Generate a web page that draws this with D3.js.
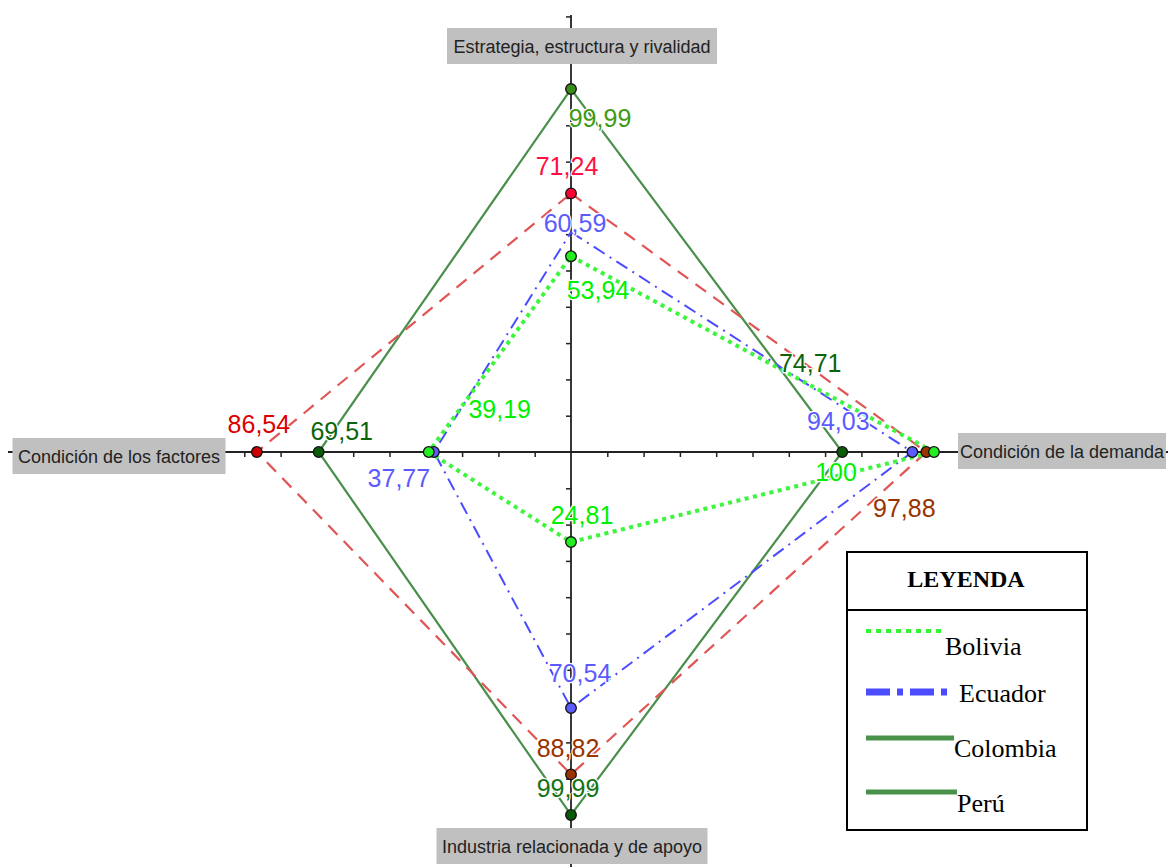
<!DOCTYPE html>
<html>
<head>
<meta charset="utf-8">
<script src="https://cdn.jsdelivr.net/npm/d3@7"></script>
<style>
  body { margin: 0; background: #fff; }
  svg { display: block; }
</style>
</head>
<body>
<svg width="1168" height="867"></svg>
<script>
// axis names, clockwise from the top
const axisNames = [
  'Estrategia, estructura y rivalidad',
  'Condición de la demanda',
  'Industria relacionada y de apoyo',
  'Condición de los factores'
]
const countries = ['Bolivia', 'Ecuador', 'Colombia', 'Perú']

// values per axis (top, right, bottom, left)
const bolivia = [53.94, 100, 24.81, 39.19]
const ecuador = [60.59, 94.03, 70.54, 37.77]
const colombia = [99.99, 74.71, 99.99, 69.51]
const peru = [71.24, 97.88, 88.82, 86.54]

const values = [bolivia, ecuador, colombia, peru]

// where each value label sits relative to its point (dx, baseline dy)
const labelOffsets = [
  [[27, 43], [-98, 29], [11, -18], [71, -34]],
  [[4, 0], [-74, -22], [9, -26], [-35, 35]],
  [[29, 38], [-32, -80], [-3, -18], [23, -12]],
  [[-4, -18], [-22, 65], [-3, -17], [2, -19]]
]

// line styles per country
const styles = [
  {stroke: '#3cf53c', width: 4, dash: '4,4.5', dot: ['#22ee22', '#22ee22', '#22ee22', '#22ee22'],
   text: ['#00f000', '#00f000', '#00f000', '#00f000']},
  {stroke: '#4b4bff', width: 2, dash: '13,6,2,6', dot: [null, '#5b5bff', '#5b5bff', '#5b5bff'],
   text: ['#5b5bff', '#5b5bff', '#5b5bff', '#5b5bff']},
  {stroke: '#4a8f4a', width: 2.2, dash: null, dot: ['#3a8c1a', '#0a5a0a', '#0a5a0a', '#0a5a0a'],
   text: ['#3e9a12', '#0b640b', '#137313', '#0b640b']},
  {stroke: '#e05555', width: 2.2, dash: '13,9', dot: ['#ff0033', '#993300', '#993300', '#cc0000'],
   text: ['#ff1040', '#993300', '#993300', '#dd0000']}
]

const svg = d3.select('svg')
const width = +svg.attr('width')
const height = +svg.attr('height')

const cx = 571, cy = 452
const R = 363

const x = d3.scaleLinear().domain([-100, 100]).range([cx - R, cx + R])
const y = d3.scaleLinear().domain([-100, 100]).range([cy + R, cy - R])

// point of value v on axis i
const pos = (i, v) => {
  if (i === 0) return [x(0), y(v)]
  if (i === 1) return [x(v), y(0)]
  if (i === 2) return [x(0), y(-v)]
  return [x(-v), y(0)]
}

svg.append('rect').attr('width', width).attr('height', height).attr('fill', '#fff')

// axes with ticks
const tickVals = d3.range(-150, 130, 10).filter(d => d !== 0)
svg.append('g').attr('transform', `translate(0,${cy})`)
  .call(d3.axisBottom(x).tickValues(tickVals).tickSize(5).tickFormat(''))
svg.append('g').attr('transform', `translate(${cx},0)`)
  .call(d3.axisLeft(y).tickValues(tickVals).tickSize(5).tickFormat(''))
svg.selectAll('.domain').remove()
svg.selectAll('.tick line').attr('stroke', '#222').attr('stroke-width', 1.5)

svg.append('line').attr('x1', 8).attr('x2', width).attr('y1', cy).attr('y2', cy)
  .attr('stroke', '#222').attr('stroke-width', 1.8)
svg.append('line').attr('x1', cx).attr('x2', cx).attr('y1', 15).attr('y2', height)
  .attr('stroke', '#222').attr('stroke-width', 1.8)

// country polygons, drawn Colombia, Perú, Ecuador, Bolivia
const order = [2, 3, 1, 0]
const lineGen = d3.line().curve(d3.curveLinearClosed)

order.forEach(k => {
  const pts = values[k].map((v, i) => pos(i, v))
  svg.append('path')
    .attr('d', lineGen(pts))
    .attr('fill', 'none')
    .attr('stroke', styles[k].stroke)
    .attr('stroke-width', styles[k].width)
    .attr('stroke-dasharray', styles[k].dash)
})

// dots
order.forEach(k => {
  values[k].forEach((v, i) => {
    if (!styles[k].dot[i]) return
    const p = pos(i, v)
    svg.append('circle')
      .attr('cx', p[0]).attr('cy', p[1]).attr('r', 5.3)
      .attr('fill', styles[k].dot[i])
      .attr('stroke', '#111').attr('stroke-width', 1.3)
  })
})

// value labels
const fmt = v => Number.isInteger(v) ? String(v) : v.toFixed(2).replace('.', ',')
order.forEach(k => {
  values[k].forEach((v, i) => {
    const p = pos(i, v)
    svg.append('text')
      .attr('x', p[0] + labelOffsets[k][i][0])
      .attr('y', p[1] + labelOffsets[k][i][1])
      .attr('text-anchor', 'middle')
      .attr('font-family', '"Liberation Sans", Arial, sans-serif')
      .attr('font-size', 25)
      .attr('fill', styles[k].text[i])
      .attr('stroke', '#fff').attr('stroke-width', 2.5)
      .attr('paint-order', 'stroke')
      .text(fmt(v))
  })
})

// axis name boxes (center x, center y, box width)
const boxes = [[582, 46, 270], [1062, 451, 208], [572, 846, 271], [119, 456, 213]]
axisNames.forEach((name, i) => {
  const [bx, by, bw] = boxes[i]
  svg.append('rect')
    .attr('x', bx - bw / 2).attr('y', by - 18)
    .attr('width', bw).attr('height', 36)
    .attr('fill', '#c0c0c0')
  svg.append('text')
    .attr('x', bx).attr('y', by + 6.5)
    .attr('text-anchor', 'middle')
    .attr('font-family', '"Liberation Sans", Arial, sans-serif')
    .attr('font-size', 18)
    .attr('fill', '#222')
    .text(name)
})

// legend
const legend = svg.append('g')
legend.append('rect')
  .attr('x', 847).attr('y', 552).attr('width', 240).attr('height', 278)
  .attr('fill', '#fff').attr('stroke', '#000').attr('stroke-width', 2)
legend.append('line')
  .attr('x1', 847).attr('x2', 1087).attr('y1', 610).attr('y2', 610)
  .attr('stroke', '#000').attr('stroke-width', 2)
legend.append('text')
  .attr('x', 966).attr('y', 587)
  .attr('text-anchor', 'middle')
  .attr('font-family', '"Liberation Serif", "Times New Roman", serif')
  .attr('font-weight', 'bold')
  .attr('font-size', 24)
  .text('LEYENDA')

// legend samples (line y, line end x, text x, text baseline)
const legendRows = [[631, 945, 945, 655], [692, 950, 959, 702], [738, 954, 954, 757], [792, 957, 957, 812]]
const legendStyles = [
  {stroke: '#33f533', width: 4, dash: '5,5'},
  {stroke: '#4b4bff', width: 7, dash: '24,7,6,7'},
  {stroke: '#4a914a', width: 5, dash: null},
  {stroke: '#4a914a', width: 5, dash: null}
]
countries.forEach((c, i) => {
  const [ly, lx2, tx, ty] = legendRows[i]
  legend.append('line')
    .attr('x1', 866).attr('x2', lx2).attr('y1', ly).attr('y2', ly)
    .attr('stroke', legendStyles[i].stroke)
    .attr('stroke-width', legendStyles[i].width)
    .attr('stroke-dasharray', legendStyles[i].dash)
  legend.append('text')
    .attr('x', tx).attr('y', ty)
    .attr('font-family', '"Liberation Serif", "Times New Roman", serif')
    .attr('font-size', 26)
    .text(c)
})
</script>
</body>
</html>
